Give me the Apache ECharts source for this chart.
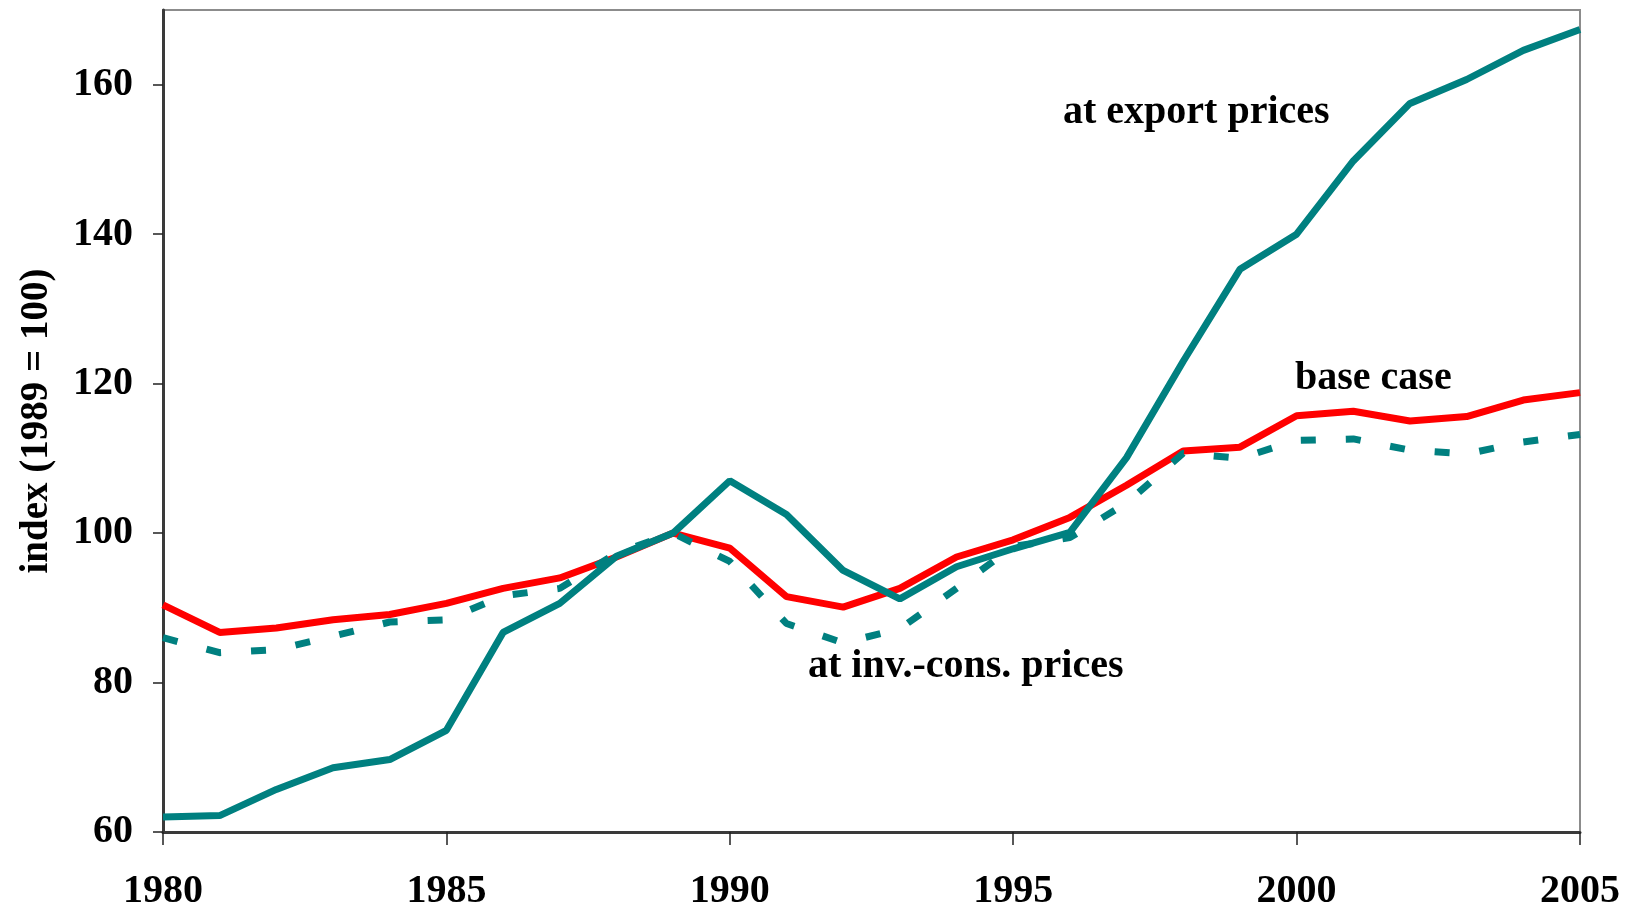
<!DOCTYPE html>
<html>
<head>
<meta charset="utf-8">
<script src="https://cdn.jsdelivr.net/npm/echarts@6/dist/echarts.min.js"></script>
<style>
  html, body { margin: 0; padding: 0; background: #fff; }
  #chart { width: 1631px; height: 912px; }
</style>
</head>
<body>
<div id="chart"></div>
<script>
// years on the x axis
const years = [1980, 1981, 1982, 1983, 1984, 1985, 1986, 1987, 1988, 1989, 1990, 1991, 1992,
  1993, 1994, 1995, 1996, 1997, 1998, 1999, 2000, 2001, 2002, 2003, 2004, 2005]
// index values (1989 = 100)
const baseCase = [90.4, 86.7, 87.3, 88.4, 89.1, 90.6, 92.6, 94.0, 96.8, 100, 98.0, 91.5, 90.1,
  92.6, 96.8, 99.1, 102.1, 106.4, 111.0, 111.5, 115.7, 116.3, 115.0, 115.6, 117.8, 118.8]
const invConsPrices = [86.0, 84.0, 84.4, 86.2, 88.1, 88.4, 91.6, 92.6, 97.3, 100, 96.2, 87.9, 85.3,
  87.2, 92.6, 98.2, 99.4, 104.0, 110.7, 110.0, 112.4, 112.6, 111.1, 110.6, 112.2, 113.2]
const exportPrices = [62.0, 62.2, 65.7, 68.6, 69.7, 73.6, 86.7, 90.6, 96.9, 100, 107.0, 102.5, 95.0,
  91.2, 95.5, 97.9, 100.1, 110.1, 123.0, 135.3, 140.0, 149.8, 157.5, 160.7, 164.6, 167.4]
// tick values
const xTicks = [1980, 1985, 1990, 1995, 2000, 2005]
const yTicks = [60, 80, 100, 120, 140, 160]

const fontFamily = '"Liberation Serif", "DejaVu Serif", serif'
const teal = '#008080'

const chart = echarts.init(document.getElementById('chart'))

// 把两个数组拼成 [x, y]
const toPairs = (vals) => years.map((y, i) => [y, vals[i]])

const option = {
  animation: false,
  grid: {
    left: 163,
    right: 51,
    top: 10,
    bottom: 80,
    outerBoundsMode: 'none',
    containLabel: false,
    show: true,
    borderColor: '#8c8c8c',
    borderWidth: 2
  },
  xAxis: {
    type: 'value',
    min: 1980,
    max: 2005,
    interval: 5,
    axisLine: { show: true, onZero: false, lineStyle: { color: '#3a3a3a', width: 3 } },
    axisTick: { show: true, length: 13, lineStyle: { color: '#222', width: 1.5 }, customValues: xTicks },
    axisLabel: {
      margin: 40,
      fontFamily: fontFamily,
      fontWeight: 'bold',
      fontSize: 40,
      color: '#000',
      customValues: xTicks,
      formatter: (v) => String(v)
    },
    splitLine: { show: false }
  },
  yAxis: {
    type: 'value',
    min: 60,
    max: 170,
    interval: 20,
    name: 'index (1989 = 100)',
    nameLocation: 'middle',
    nameGap: 107,
    nameTextStyle: {
      fontFamily: fontFamily,
      fontWeight: 'bold',
      fontSize: 39,
      color: '#000'
    },
    axisLine: { show: true, lineStyle: { color: '#3a3a3a', width: 3 } },
    axisTick: { show: true, length: 10, lineStyle: { color: '#222', width: 1.5 }, customValues: yTicks },
    axisLabel: {
      margin: 30,
      fontFamily: fontFamily,
      fontWeight: 'bold',
      fontSize: 40,
      color: '#000',
      customValues: yTicks
    },
    splitLine: { show: false }
  },
  series: [
    {
      name: 'base case',
      type: 'line',
      data: toPairs(baseCase),
      symbol: 'none',
      lineStyle: { color: '#ff0000', width: 7 },
      z: 2
    },
    {
      name: 'at inv.-cons. prices',
      type: 'line',
      data: toPairs(invConsPrices),
      symbol: 'none',
      lineStyle: { color: teal, width: 7, type: [15, 30], cap: 'butt' },
      z: 3
    },
    {
      name: 'at export prices',
      type: 'line',
      data: toPairs(exportPrices),
      symbol: 'none',
      lineStyle: { color: teal, width: 7 },
      z: 4
    }
  ],
  // 线条旁边的文字说明
  graphic: [
    {
      type: 'text',
      left: 1063,
      top: 93,
      style: { text: 'at export prices', font: 'bold 40px ' + fontFamily, fill: '#000' }
    },
    {
      type: 'text',
      left: 1295,
      top: 359,
      style: { text: 'base case', font: 'bold 40px ' + fontFamily, fill: '#000' }
    },
    {
      type: 'text',
      left: 808,
      top: 647,
      style: { text: 'at inv.-cons. prices', font: 'bold 40px ' + fontFamily, fill: '#000' }
    }
  ]
}

chart.setOption(option)
</script>
</body>
</html>
